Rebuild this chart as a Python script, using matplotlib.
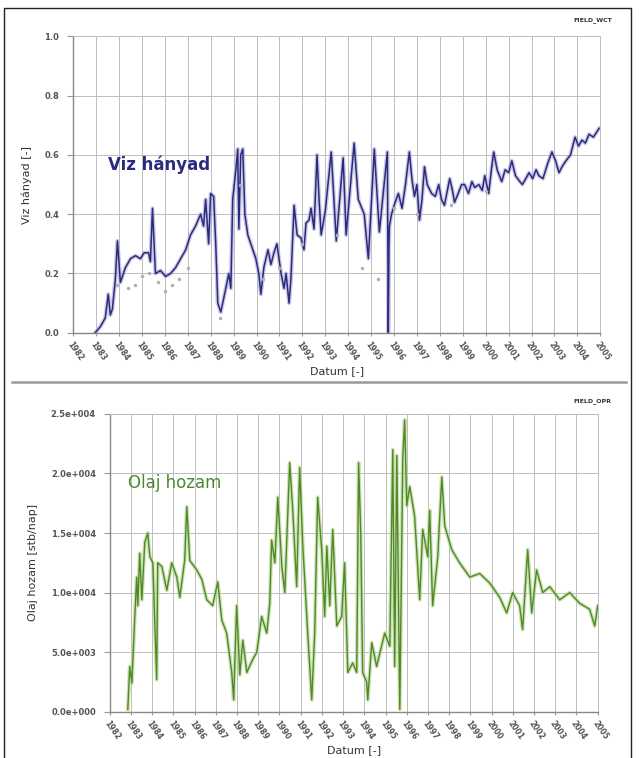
import numpy as np
import matplotlib.pyplot as plt
from matplotlib.lines import Line2D

years = list(range(1982, 2006))
year_labels = [str(y) for y in years]

# water cut (field), x as years since 1982
wct_t = [0.96, 1.18, 1.40, 1.53, 1.62, 1.71, 1.84, 1.93, 2.06, 2.28,
         2.50, 2.72, 2.93, 3.10, 3.29, 3.37, 3.46, 3.59, 3.81, 4.03,
         4.25, 4.47, 4.69, 4.91, 5.12, 5.34, 5.56, 5.69, 5.78, 5.91,
         6.00, 6.13, 6.22, 6.31, 6.44, 6.66, 6.79, 6.88, 6.96, 7.10,
         7.18, 7.23, 7.31, 7.40, 7.49, 7.62, 7.75, 7.97, 8.10, 8.19,
         8.32, 8.50, 8.63, 8.76, 8.89, 9.07, 9.20, 9.29, 9.42, 9.50,
         9.64, 9.77, 9.94, 10.07, 10.16, 10.29, 10.38, 10.51, 10.64, 10.73,
         10.82, 11.00, 11.26, 11.48, 11.78, 11.91, 12.26, 12.44, 12.70, 12.88,
         13.14, 13.36, 13.71, 13.75, 13.78, 13.80, 13.89, 14.05, 14.19, 14.35,
         14.50, 14.67, 14.78, 14.89, 15.00, 15.11, 15.22, 15.33, 15.45, 15.64,
         15.80, 15.95, 16.07, 16.20, 16.43, 16.55, 16.64, 16.80, 16.95, 17.08,
         17.25, 17.40, 17.52, 17.70, 17.85, 17.96, 18.13, 18.25, 18.35, 18.50,
         18.70, 18.85, 19.00, 19.14, 19.30, 19.49, 19.60, 19.75, 19.89, 20.05,
         20.20, 20.32, 20.50, 20.70, 20.89, 21.05, 21.20, 21.33, 21.50, 21.70,
         21.90, 22.05, 22.20, 22.35, 22.51, 22.70, 22.95]
wct = [0.00, 0.02, 0.05, 0.13, 0.06, 0.08, 0.18, 0.31, 0.17, 0.22,
       0.25, 0.26, 0.25, 0.27, 0.27, 0.24, 0.42, 0.20, 0.21, 0.19,
       0.20, 0.22, 0.25, 0.28, 0.33, 0.36, 0.40, 0.36, 0.45, 0.30,
       0.47, 0.46, 0.30, 0.10, 0.07, 0.15, 0.20, 0.15, 0.45, 0.55,
       0.62, 0.35, 0.60, 0.62, 0.40, 0.33, 0.30, 0.25, 0.20, 0.13,
       0.22, 0.28, 0.23, 0.27, 0.30, 0.20, 0.15, 0.20, 0.10, 0.18,
       0.43, 0.33, 0.32, 0.28, 0.37, 0.38, 0.42, 0.35, 0.60, 0.45,
       0.33, 0.41, 0.61, 0.31, 0.59, 0.33, 0.64, 0.45, 0.40, 0.25,
       0.62, 0.34, 0.61, 0.00, 0.30, 0.36, 0.40, 0.44, 0.47, 0.42,
       0.50, 0.61, 0.52, 0.46, 0.50, 0.38, 0.45, 0.56, 0.50, 0.47,
       0.46, 0.50, 0.45, 0.43, 0.52, 0.48, 0.44, 0.47, 0.50, 0.50,
       0.47, 0.51, 0.49, 0.50, 0.48, 0.53, 0.47, 0.55, 0.61, 0.55,
       0.51, 0.55, 0.54, 0.58, 0.53, 0.51, 0.50, 0.52, 0.54, 0.52,
       0.55, 0.53, 0.52, 0.57, 0.61, 0.58, 0.54, 0.56, 0.58, 0.60,
       0.66, 0.63, 0.65, 0.64, 0.67, 0.66, 0.69]

# observed water cut points (light markers)
wct_obs_t = [1.9, 2.4, 2.7, 3.0, 3.3, 3.7, 4.0, 4.3, 4.6, 5.0, 6.4, 7.3, 8.3, 9.0, 10.0,
             11.5, 12.6, 13.3, 14.0, 15.0, 16.5, 18.0]
wct_obs = [0.16, 0.15, 0.16, 0.19, 0.20, 0.17, 0.14, 0.16, 0.18, 0.22, 0.05, 0.50, 0.18,
           0.22, 0.30, 0.33, 0.22, 0.18, 0.42, 0.40, 0.43, 0.48]

# oil production rate (field)
opr_t = [0.85, 0.94, 1.04, 1.18, 1.27, 1.32, 1.41, 1.51, 1.65, 1.79, 1.89, 2.03, 2.21, 2.26,
         2.45, 2.69, 2.92, 3.16, 3.30, 3.53, 3.63, 3.77, 4.10, 4.34, 4.57, 4.85, 5.09, 5.28,
         5.51, 5.75, 5.84, 5.98, 6.13, 6.27, 6.46, 6.74, 6.93, 7.16, 7.40, 7.54, 7.63, 7.78,
         7.92, 8.11, 8.25, 8.34, 8.48, 8.62, 8.81, 8.95, 9.10, 9.33, 9.52, 9.66, 9.80, 9.99,
         10.13, 10.23, 10.37, 10.51, 10.70, 10.93, 11.07, 11.22, 11.45, 11.64, 11.73, 11.83,
         11.92, 12.11, 12.16, 12.35, 12.58, 12.96, 13.20, 13.34, 13.43, 13.53, 13.67, 13.81,
         13.90, 14.00, 14.14, 14.37, 14.61, 14.75, 14.99, 15.08, 15.22, 15.46, 15.65, 15.79,
         16.12, 16.49, 16.97, 17.44, 17.91, 18.38, 18.71, 18.99, 19.32, 19.46, 19.70, 19.89,
         20.12, 20.41, 20.74, 21.21, 21.68, 22.15, 22.62, 22.86, 23.00]
opr = [200, 3800, 2400, 8000, 11300, 8900, 13300, 9400, 14200, 15000, 13000, 12500, 2700,
       12500, 12200, 10200, 12500, 11300, 9600, 12700, 17200, 12700, 11900, 11100, 9400,
       8900, 10900, 7700, 6600, 3300, 1000, 8900, 3100, 6000, 3300, 4400, 5000, 8000, 6600,
       9100, 14400, 12500, 18000, 12200, 10000, 14200, 20900, 17100, 10500, 20500, 13900,
       6600, 1000, 6600, 18000, 13600, 8000, 13900, 8900, 15300, 7200, 8000, 12500, 3300,
       4100, 3300, 20900, 15000, 3300, 2500, 1000, 5800, 3800, 6600, 5500, 22000, 3800, 21500,
       200, 21200, 24500, 17300, 18900, 16400, 9400, 15300, 13000, 16900, 8900, 13000,
       19700, 15600, 13600, 12500, 11300, 11600, 10800, 9600, 8300, 10000, 8900, 6900,
       13600, 8300, 11900, 10000, 10500, 9400, 10000, 9100, 8600, 7200, 8900]

wct_x = [1982 + t for t in wct_t]
wct_obs_x = [1982 + t for t in wct_obs_t]
opr_x = [1982 + t for t in opr_t]

fig = plt.figure(figsize=(6.42, 7.58), dpi=100)
ax1 = fig.add_axes([0.114, 0.561, 0.821, 0.391])
ax2 = fig.add_axes([0.171, 0.061, 0.760, 0.393])

grid_kw = dict(color='#bdbdbd', linewidth=0.7)

# top: water cut
ax1.plot(wct_x, wct, color='#a9a6d6', linewidth=3.0, alpha=0.6)
ax1.plot(wct_x, wct, color='#2b2b7e', linewidth=1.1)
ax1.plot(wct_obs_x, wct_obs, linestyle='none', marker='.', markersize=3, color='#b0b0b0')
ax1.set_ylim(0, 1.0)
ax1.set_yticks([0.0, 0.2, 0.4, 0.6, 0.8, 1.0])
ax1.set_yticklabels(['0.0', '0.2', '0.4', '0.6', '0.8', '1.0'])
ax1.set_ylabel('Viz hányad [-]', fontsize=8, color='#333333', labelpad=9)
ax1.text(0.066, 0.55, 'Viz hányad', transform=ax1.transAxes, fontsize=12,
         fontweight='bold', color='#2b2b7e')

# bottom: oil rate
ax2.plot(opr_x, opr, color='#b9d69a', linewidth=2.8, alpha=0.7)
ax2.plot(opr_x, opr, color='#4f8a25', linewidth=1.0)
ax2.set_ylim(0, 25000)
ax2.set_yticks([0, 5000, 10000, 15000, 20000, 25000])
ax2.set_yticklabels(['0.0e+000', '5.0e+003', '1.0e+004', '1.5e+004', '2.0e+004', '2.5e+004'])
ax2.set_ylabel('Olaj hozam [stb/nap]', fontsize=8, color='#333333', labelpad=9)
ax2.text(0.037, 0.75, 'Olaj hozam', transform=ax2.transAxes, fontsize=12,
         color='#4a8a2e')

for ax in (ax1, ax2):
    ax.set_xlim(1982, 2005)
    ax.set_xticks(years)
    ax.set_xticklabels(year_labels, rotation=-55, ha='left', va='top',
                       rotation_mode='anchor', fontsize=5.5, fontweight='bold',
                       color='#555555')
    ax.tick_params(axis='y', labelsize=6, labelcolor='#555555', length=4, pad=6,
                   color='#999999')
    for lbl in ax.get_yticklabels():
        lbl.set_fontweight('bold')
    ax.tick_params(axis='x', length=2, color='#999999')
    ax.grid(True, **grid_kw)
    ax.set_axisbelow(True)
    for side in ('top', 'right'):
        ax.spines[side].set_color('#bdbdbd')
        ax.spines[side].set_linewidth(0.7)
    for side in ('left', 'bottom'):
        ax.spines[side].set_color('#888888')
        ax.spines[side].set_linewidth(1.0)
    ax.set_xlabel('Datum [-]', fontsize=8, color='#333333', labelpad=2)

fig.text(0.953, 0.972, 'FIELD_WCT', fontsize=4.5, fontweight='bold', ha='right', color='#333333')
fig.text(0.953, 0.469, 'FIELD_OPR', fontsize=4.5, fontweight='bold', ha='right', color='#333333')

# separator and frame
fig.add_artist(Line2D([0.019, 0.975], [0.496, 0.496], color='#9a9a9a', linewidth=1.8))
fig.add_artist(Line2D([0.006, 0.006, 0.983, 0.983], [0.0, 0.989, 0.989, 0.0],
                      color='#222222', linewidth=1.0))

fig.savefig('out.png', dpi=100)
